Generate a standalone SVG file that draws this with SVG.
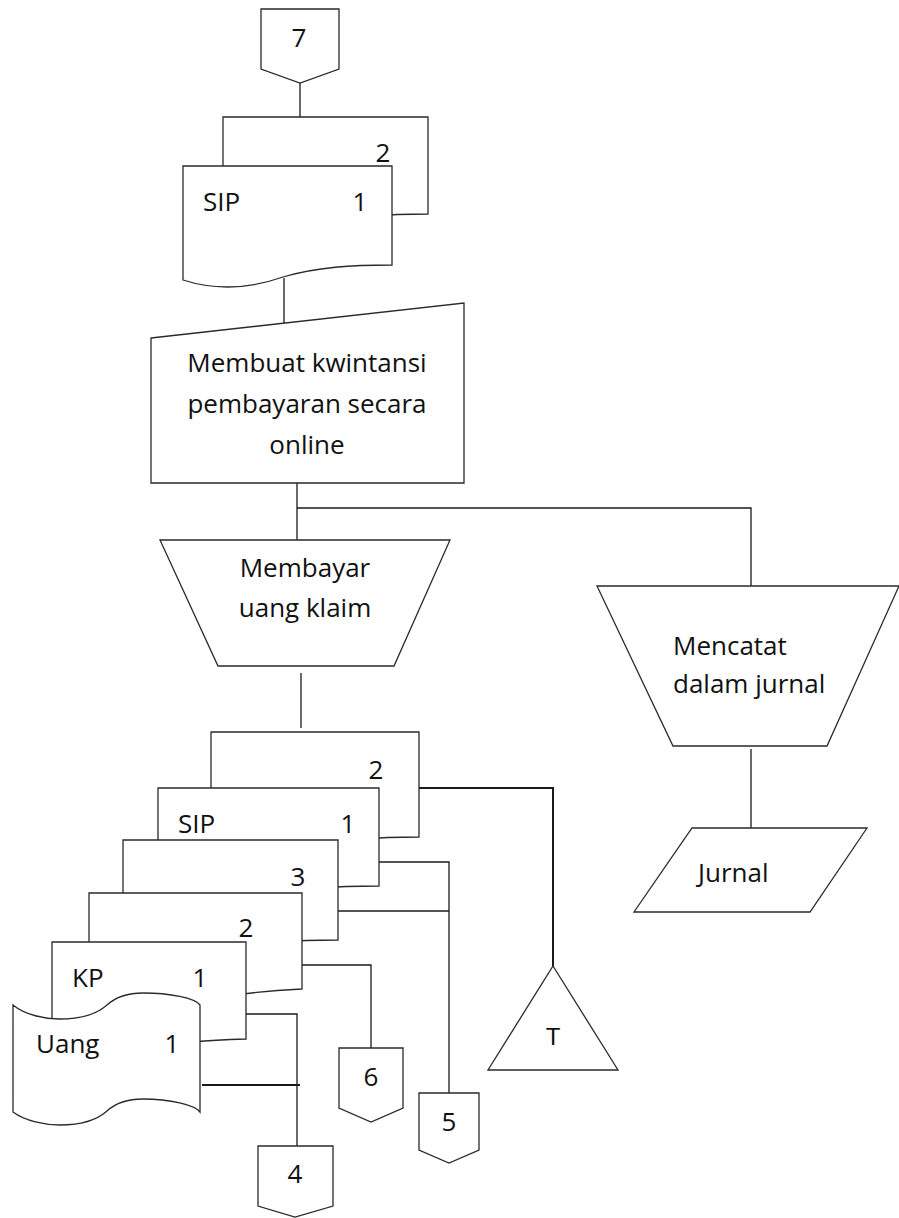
<svg xmlns="http://www.w3.org/2000/svg" width="899" height="1218" viewBox="0 0 899 1218">
  <style>
    .shape { fill: #ffffff; stroke: #2a2a2a; stroke-width: 1.3; }
    .link { fill: none; stroke: #1a1a1a; stroke-width: 1.3; }
    .link.bold { stroke-width: 2; }
    .t { font-family: "Open Sans", "Noto Sans", sans-serif; font-size: 26px; fill: #111111; }
    .c { text-anchor: middle; }
    .a { font-family: "Liberation Sans", Arial, sans-serif; font-size: 24px; fill: #111111; text-anchor: middle; }
  </style>
  <rect width="899" height="1218" fill="#ffffff"/>

  <!-- connectors -->
  <g id="connectors">
    <line class="link" x1="300" y1="83" x2="300" y2="117"/>
    <line class="link" x1="284" y1="278" x2="284" y2="323"/>
    <line class="link" x1="297" y1="483" x2="297" y2="540"/>
    <polyline class="link" points="297,508 751,508 751,586"/>
    <line class="link" x1="301" y1="673" x2="301" y2="728"/>
    <line class="link" x1="751" y1="749" x2="751" y2="828"/>
    <polyline class="link bold" points="419,788 553,788 553,966"/>
    <polyline class="link" points="379,862 449,862 449,1093"/>
    <line class="link" x1="338" y1="911" x2="449" y2="911"/>
    <polyline class="link" points="302,965 371,965 371,1048"/>
    <polyline class="link" points="246,1014 297,1014 297,1146"/>
    <line class="link bold" x1="202" y1="1085" x2="300" y2="1085"/>
  </g>

  <!-- off-page connector 7 -->
  <g id="conn7">
    <polygon class="shape" points="261,9 339,9 339,69 300,83 261,69"/>
    <text class="t c" x="299" y="47">7</text>
  </g>

  <!-- SIP, copies 2 and 1 -->
  <g id="sip-top">
    <path class="shape" d="M223,117 H428 V214 C389,214 354,216 321,226 C285,239 254,239 223,229 Z"/>
    <path class="shape" d="M183,166 H392 V265 C352,265 317,267 283,277 C246,290 214,290 183,280 Z"/>
    <text class="t c" x="383" y="162">2</text>
    <text class="t" x="203" y="211">SIP</text>
    <text class="t c" x="360" y="211">1</text>
  </g>

  <!-- manual input -->
  <g id="kwitansi">
    <polygon class="shape" points="151,338 464,303 464,483 151,483"/>
    <text class="t c" x="307" y="372">Membuat kwintansi</text>
    <text class="t c" x="307" y="413">pembayaran secara</text>
    <text class="t c" x="307" y="454">online</text>
  </g>

  <!-- manual operation: pay the claim -->
  <g id="membayar">
    <polygon class="shape" points="160,540 450,540 394,666 218,666"/>
    <text class="t c" x="305" y="577">Membayar</text>
    <text class="t c" x="305" y="617">uang klaim</text>
  </g>

  <!-- manual operation: record in journal -->
  <g id="mencatat">
    <polygon class="shape" points="597,586 899,586 827,746 673,746"/>
    <text class="t" x="673" y="655">Mencatat</text>
    <text class="t" x="673" y="693">dalam jurnal</text>
  </g>

  <!-- journal -->
  <g id="jurnal">
    <polygon class="shape" points="692,828 867,828 810,912 634,912"/>
    <text class="t" x="698" y="882">Jurnal</text>
  </g>

  <!-- document stack -->
  <g id="sip2">
    <path class="shape" d="M211,732 H419 V837 C379,837 344,839 311,849 C273,862 242,862 211,852 Z"/>
    <text class="t c" x="376" y="779">2</text>
  </g>
  <g id="sip1">
    <path class="shape" d="M158,788 H379 V886 C337,886 299,888 264,898 C224,911 191,911 158,901 Z"/>
    <text class="t" x="178" y="833">SIP</text>
    <text class="t c" x="348" y="833">1</text>
  </g>
  <g id="kp3">
    <path class="shape" d="M123,840 H338 V940 C297,940 261,942 226,952 C188,965 155,965 123,955 Z"/>
    <text class="t c" x="298" y="886">3</text>
  </g>
  <g id="kp2">
    <path class="shape" d="M89,893 H302 V989 C262,991 225,995 191,1003 C153,1014 121,1014 89,1004 Z"/>
    <text class="t c" x="246" y="937">2</text>
  </g>
  <g id="kp1">
    <path class="shape" d="M52,942 H246 V1039 C209,1040 176,1042 145,1051 C110,1063 81,1063 52,1054 Z"/>
    <text class="t" x="72" y="987">KP</text>
    <text class="t c" x="200" y="987">1</text>
  </g>
  <g id="uang">
    <path class="shape" d="M13,1005 C25,1015 45,1019 60,1019 C85,1019 98,1013 107,1005 C118,995 130,993 143,993 C170,993 195,998 200,1005 L200,1112 C195,1105 170,1099 143,1099 C130,1099 118,1101 107,1111 C98,1119 85,1125 60,1125 C45,1125 25,1121 13,1112 Z"/>
    <text class="t" x="36" y="1053">Uang</text>
    <text class="t c" x="172" y="1053">1</text>
  </g>

  <!-- file T -->
  <g id="arsip-t">
    <polygon class="shape" points="553,966 618,1070 488,1070"/>
    <text class="a" x="553" y="1045">T</text>
  </g>

  <!-- off-page connectors 6, 5, 4 -->
  <g id="conn6">
    <polygon class="shape" points="339,1048 403,1048 403,1108 371,1122 339,1108"/>
    <text class="t c" x="371" y="1086">6</text>
  </g>
  <g id="conn5">
    <polygon class="shape" points="419,1093 479,1093 479,1150 449,1163 419,1150"/>
    <text class="t c" x="449" y="1131">5</text>
  </g>
  <g id="conn4">
    <polygon class="shape" points="258,1146 333,1146 333,1206 295,1217 258,1206"/>
    <text class="t c" x="295" y="1183">4</text>
  </g>
</svg>
